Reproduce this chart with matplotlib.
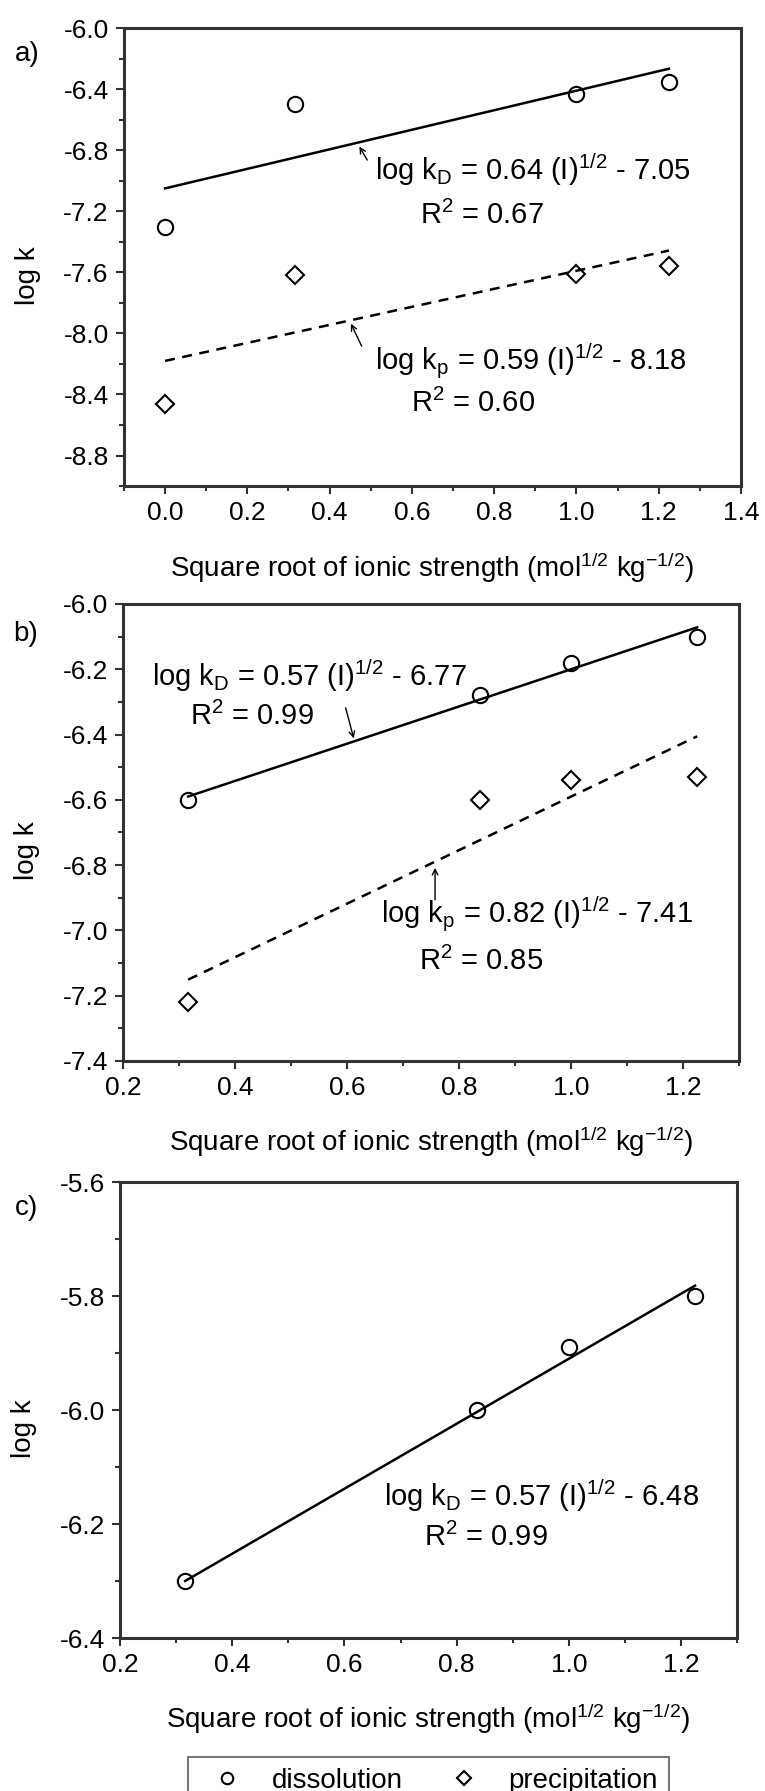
import matplotlib.pyplot as plt
from matplotlib.ticker import MultipleLocator

plt.rcParams['font.family'] = ['Liberation Sans', 'DejaVu Sans']
plt.rcParams['mathtext.fontset'] = 'custom'
plt.rcParams['mathtext.rm'] = 'Liberation Sans'
plt.rcParams['mathtext.it'] = 'Liberation Sans'

# panel a
x_a = [0.0, 0.316, 1.0, 1.225]
diss_a = [-7.30, -6.50, -6.43, -6.35]
prec_a = [-8.46, -7.62, -7.61, -7.56]
fit_a = {'diss': (0.64, -7.05), 'prec': (0.59, -8.18)}

# panel b
x_b = [0.316, 0.837, 1.0, 1.225]
diss_b = [-6.60, -6.28, -6.18, -6.10]
prec_b = [-7.22, -6.60, -6.54, -6.53]
fit_b = {'diss': (0.57, -6.77), 'prec': (0.82, -7.41)}

# panel c
x_c = [0.316, 0.837, 1.0, 1.225]
diss_c = [-6.30, -6.00, -5.89, -5.80]
fit_c = {'diss': (0.57, -6.48)}

xlabel = r'Square root of ionic strength (mol$^{\mathrm{1/2}}$ kg$^{\mathrm{-1/2}}$)'
spine_col = '#333333'


def style_axes(ax, xlim, ylim, xmaj, ymaj):
    ax.set_xlim(*xlim)
    ax.set_ylim(*ylim)
    ax.xaxis.set_major_locator(MultipleLocator(xmaj))
    ax.xaxis.set_minor_locator(MultipleLocator(xmaj / 2))
    ax.yaxis.set_major_locator(MultipleLocator(ymaj))
    ax.yaxis.set_minor_locator(MultipleLocator(ymaj / 2))
    ax.xaxis.set_major_formatter(plt.FormatStrFormatter('%.1f'))
    ax.yaxis.set_major_formatter(plt.FormatStrFormatter('%.1f'))
    ax.tick_params(which='both', direction='out', top=False, right=False,
                   colors=spine_col, labelcolor='black', labelsize=19, width=1.5)
    ax.tick_params(which='major', length=6, pad=5)
    ax.tick_params(which='minor', length=3.5)
    for s in ax.spines.values():
        s.set_linewidth(2.2)
        s.set_color(spine_col)
    ax.set_xlabel(xlabel, fontsize=20)
    ax.set_ylabel('log k', fontsize=20)
    ax.xaxis.set_label_coords(0.5, -0.14)
    ax.yaxis.set_label_coords(-0.135, 0.46)


def fit_line(ax, x, coef, ls):
    m, b = coef
    xs = [min(x), max(x)]
    ax.plot(xs, [m * v + b for v in xs], color='black', lw=1.8, ls=ls)


mk_o = dict(marker='o', ms=11, mfc='none', mec='black', mew=1.5, ls='none')
mk_d = dict(marker='D', ms=9.5, mfc='none', mec='black', mew=1.5, ls='none')
arrow = dict(arrowstyle='->', lw=1.0, color='black', mutation_scale=10)
eq_fs = 21

fig = plt.figure(figsize=(7.65, 17.91), dpi=100)

# a)
ax = fig.add_axes([0.162, 0.7286, 0.8065, 0.2557])
fit_line(ax, x_a, fit_a['diss'], '-')
fit_line(ax, x_a, fit_a['prec'], (0, (4, 3)))
ax.plot(x_a, diss_a, **mk_o)
ax.plot(x_a, prec_a, **mk_d)
style_axes(ax, (-0.1, 1.4), (-9.0, -6.0), 0.2, 0.4)
ax.text(0.51, -6.93, r'log k$_{\mathrm{D}}$ = 0.64 (I)$^{\mathrm{1/2}}$ - 7.05', fontsize=eq_fs, va='center')
ax.text(0.77, -7.23, r'R$^{\mathrm{2}}$ = 0.67', fontsize=eq_fs, va='center', ha='center')
ax.annotate('', xy=(0.469, -6.76), xytext=(0.495, -6.88), arrowprops=arrow)
ax.text(0.51, -8.18, r'log k$_{\mathrm{p}}$ = 0.59 (I)$^{\mathrm{1/2}}$ - 8.18', fontsize=eq_fs, va='center')
ax.text(0.75, -8.46, r'R$^{\mathrm{2}}$ = 0.60', fontsize=eq_fs, va='center', ha='center')
ax.annotate('', xy=(0.449, -7.92), xytext=(0.481, -8.10), arrowprops=arrow)

# b)
ax = fig.add_axes([0.161, 0.4076, 0.8052, 0.2552])
fit_line(ax, x_b, fit_b['diss'], '-')
fit_line(ax, x_b, fit_b['prec'], (0, (4, 3)))
ax.plot(x_b, diss_b, **mk_o)
ax.plot(x_b, prec_b, **mk_d)
style_axes(ax, (0.2, 1.3), (-7.4, -6.0), 0.2, 0.2)
ax.text(0.252, -6.22, r'log k$_{\mathrm{D}}$ = 0.57 (I)$^{\mathrm{1/2}}$ - 6.77', fontsize=eq_fs, va='center')
ax.text(0.43, -6.345, r'R$^{\mathrm{2}}$ = 0.99', fontsize=eq_fs, va='center', ha='center')
ax.annotate('', xy=(0.613, -6.42), xytext=(0.596, -6.31), arrowprops=arrow)
ax.text(0.661, -6.95, r'log k$_{\mathrm{p}}$ = 0.82 (I)$^{\mathrm{1/2}}$ - 7.41', fontsize=eq_fs, va='center')
ax.text(0.84, -7.095, r'R$^{\mathrm{2}}$ = 0.85', fontsize=eq_fs, va='center', ha='center')
ax.annotate('', xy=(0.757, -6.80), xytext=(0.757, -6.915), arrowprops=arrow)

# c)
ax = fig.add_axes([0.157, 0.0854, 0.8065, 0.2546])
fit_line(ax, x_c, fit_c['diss'], '-')
ax.plot(x_c, diss_c, label='dissolution', **mk_o)
ax.plot([], [], label='precipitation', **mk_d)
style_axes(ax, (0.2, 1.3), (-6.4, -5.6), 0.2, 0.2)
ax.text(0.67, -6.15, r'log k$_{\mathrm{D}}$ = 0.57 (I)$^{\mathrm{1/2}}$ - 6.48', fontsize=eq_fs, va='center')
ax.text(0.852, -6.223, r'R$^{\mathrm{2}}$ = 0.99', fontsize=eq_fs, va='center', ha='center')

fig.text(0.035, 1 - 54 / 1791, 'a)', fontsize=20, va='center', ha='center')
fig.text(0.033, 1 - 634 / 1791, 'b)', fontsize=20, va='center', ha='center')
fig.text(0.035, 1 - 1208 / 1791, 'c)', fontsize=20, va='center', ha='center')

leg = fig.legend(loc='upper center', bbox_to_anchor=(0.56, 1 - 1757 / 1791), ncol=2,
                 fontsize=20, frameon=True, fancybox=False, handletextpad=0.6,
                 columnspacing=1.2, borderaxespad=0, markerscale=0.75)
leg.get_frame().set_edgecolor('#555555')
leg.get_frame().set_linewidth(1.5)

fig.savefig('out.png', dpi=100)
